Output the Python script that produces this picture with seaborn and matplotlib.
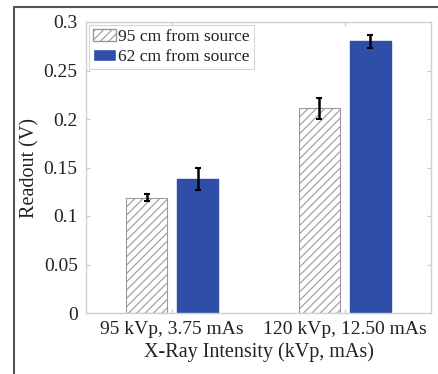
import numpy as np
import pandas as pd
import matplotlib
matplotlib.use("Agg")
import matplotlib.pyplot as plt
import seaborn as sns
from matplotlib.lines import Line2D

# data
conditions = ["95 kVp, 3.75 mAs", "120 kVp, 12.50 mAs"]
series = ["95 cm from source", "62 cm from source"]
readout_95cm = [0.119, 0.211]
readout_62cm = [0.138, 0.280]
err_95cm = [0.004, 0.011]
err_62cm = [0.011, 0.007]

df = pd.DataFrame({
    "Condition": conditions * 2,
    "Series": [series[0]] * 2 + [series[1]] * 2,
    "Readout": readout_95cm + readout_62cm,
    "Err": err_95cm + err_62cm,
})

sns.set_theme(style="white")
plt.rcParams["font.family"] = ["Liberation Serif", "DejaVu Serif"]
plt.rcParams["hatch.color"] = "#8a8a8a"
plt.rcParams["hatch.linewidth"] = 0.8

fig = plt.figure(figsize=(4.38, 3.74), dpi=100)
ax = fig.add_axes([86 / 438, 1 - 313 / 374, (431 - 86) / 438, (313 - 22) / 374])

blue = "#2f4ea8"
sns.barplot(data=df, x="Condition", y="Readout", hue="Series",
            palette=["white", blue], saturation=1, errorbar=None,
            width=0.59, gap=0.2, ax=ax)

# hatch the 95 cm bars, add error bars at bar centres
errs = err_95cm + err_62cm
vals = readout_95cm + readout_62cm
for i, p in enumerate(ax.patches[:4]):
    if i < 2:
        p.set_hatch("////")
        p.set_edgecolor("#9a9a9a")
        p.set_linewidth(0.8)
    else:
        p.set_edgecolor(blue)
    cx = p.get_x() + p.get_width() / 2
    ax.errorbar(cx, vals[i], yerr=errs[i], color="black", lw=1.8,
                capsize=2, capthick=1.5, zorder=5)

ax.set_ylim(0, 0.3)
ax.set_xlim(-0.5, 1.5)
ax.set_yticks([0, 0.05, 0.1, 0.15, 0.2, 0.25, 0.3])
ax.set_yticklabels(["0", "0.05", "0.1", "0.15", "0.2", "0.25", "0.3"])
ax.tick_params(axis="both", labelsize=14, labelcolor="#222222", color="#c8c8c8",
               direction="in", length=3, width=0.8, pad=6,
               top=True, right=True, bottom=True, left=True)
ax.set_xlabel("X-Ray Intensity (kVp, mAs)", fontsize=14.5, color="#222222", labelpad=3)
ax.set_ylabel("Readout (V)", fontsize=14.5, color="#222222", labelpad=3)
for s in ax.spines.values():
    s.set_color("#d0d0d0")
    s.set_linewidth(1)

# legend
handles, labels = ax.get_legend_handles_labels()
handles[0].set_hatch("////")
handles[0].set_edgecolor("#9a9a9a")
leg = ax.legend(handles, labels, loc="upper left", fontsize=12.6,
                frameon=True, fancybox=False, borderaxespad=0.15,
                handlelength=1.3, handletextpad=0.1, borderpad=0.25,
                labelspacing=0.2)
leg.get_frame().set_edgecolor("#cccccc")
leg.get_frame().set_linewidth(0.8)
for t in leg.get_texts():
    t.set_color("#222222")

# outer screenshot frame (left and top edges)
fig.add_artist(Line2D([14 / 438, 14 / 438], [0, 1 - 7 / 374], color="#555555", lw=1.5))
fig.add_artist(Line2D([14 / 438, 1], [1 - 7 / 374, 1 - 7 / 374], color="#555555", lw=1.5))

fig.savefig("out.png", dpi=100)
